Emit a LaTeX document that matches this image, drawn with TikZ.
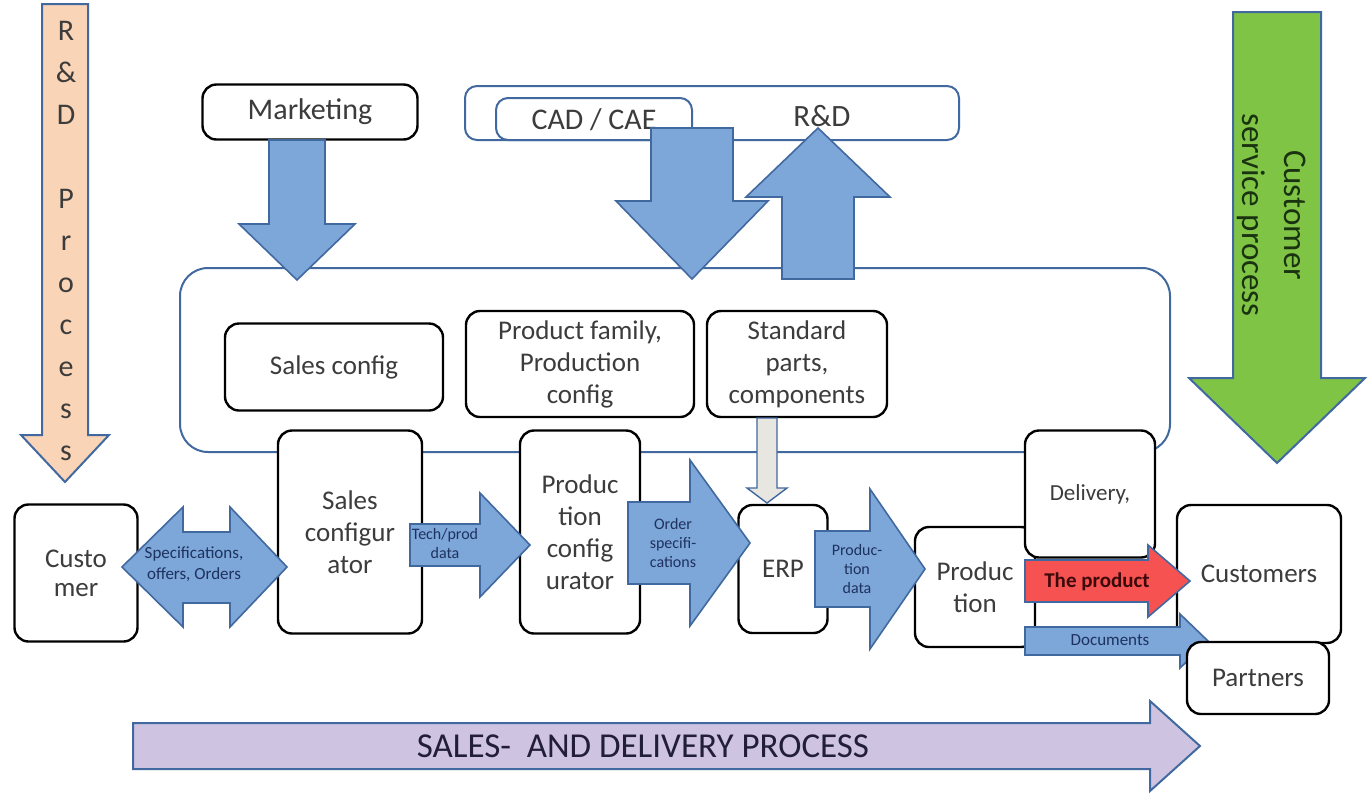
\documentclass[tikz,border=0pt]{standalone}
\usepackage{fontspec}
\setmainfont{Carlito}
\definecolor{arrowblue}{RGB}{125,166,217}
\definecolor{edgeblue}{RGB}{65,105,160}
\definecolor{peach}{RGB}{250,212,182}
\definecolor{leafgreen}{RGB}{128,196,70}
\definecolor{lavender}{RGB}{206,196,226}
\definecolor{productred}{RGB}{247,82,82}
\definecolor{paleshaft}{RGB}{232,230,224}
\definecolor{boxtext}{RGB}{60,60,60}
\definecolor{navytext}{RGB}{30,50,95}
\definecolor{darkleaf}{RGB}{25,50,15}

% block arrows: shaft start, head base, tip, centre line, shaft half width, head half width, style
\newcommand{\fatright}[7]{%
  \draw[#7] (#1,#4-#5) -- (#2,#4-#5) -- (#2,#4-#6) -- (#3,#4) -- (#2,#4+#6) -- (#2,#4+#5) -- (#1,#4+#5) -- cycle;}
\newcommand{\fatvert}[7]{%
  \draw[#7] (#1-#5,#2) -- (#1-#5,#3) -- (#1-#6,#3) -- (#1,#4) -- (#1+#6,#3) -- (#1+#5,#3) -- (#1+#5,#2) -- cycle;}

\begin{document}
\begin{tikzpicture}[x=1pt,y=-1pt,
    box/.style={draw=black,line width=2.4pt,rounded corners=14pt,fill=white,align=center,text=boxtext,inner sep=2pt,font=\fontsize{27}{32}\selectfont},
    bluebox/.style={draw=edgeblue,line width=2pt,rounded corners=12pt,fill=white,inner sep=0pt},
    flow/.style={draw=edgeblue,line width=1.6pt,fill=arrowblue},
    flowtext/.style={align=center,text=navytext,font=\fontsize{16}{19}\selectfont}]
  \useasboundingbox (0,0) rectangle (1368,796);

  \node[bluebox,rounded corners=28pt,minimum width=990pt,minimum height=184pt] (frame) at (675,360) {};
  \node[box,minimum width=215pt,minimum height=55pt,font=\fontsize{30}{34}\selectfont] (mkt) at (310,112) {Marketing};
  \node[bluebox,minimum width=494pt,minimum height=54pt] (rd) at (712,113) {};
  \node[bluebox,minimum width=196pt,minimum height=42pt] (cad) at (594,119) {};
  \node[text=boxtext,font=\fontsize{30}{34}\selectfont] (cadlabel) at (594,120) {CAD / CAE};
  \node[text=boxtext,font=\fontsize{31}{34}\selectfont] (rdlabel) at (822,116) {R\&D};

  \fatvert{297}{140}{224}{280}{28}{58}{flow}
  \fatvert{692}{128}{201}{279}{41}{76}{flow}
  \fatvert{818}{279}{197}{128}{36}{72}{flow}

  \node[box,minimum width=218pt,minimum height=87pt] (salescfg) at (334,367) {Sales config};
  \node[box,minimum width=228pt,minimum height=106pt] (family) at (580,364) {Product family,\\Production\\config};
  \node[box,minimum width=180pt,minimum height=106pt] (parts) at (797,364) {Standard\\parts,\\components};

  \fatvert{767}{418}{488}{503}{10}{20}{draw=edgeblue,line width=1.4pt,fill=paleshaft}

  \node[box,minimum width=123pt,minimum height=137pt,font=\fontsize{27}{29}\selectfont] (cust) at (76,573) {Custo\\mer};
  \node[box,minimum width=144pt,minimum height=203pt] (salescfgr) at (350,532) {Sales\\configur\\ator};
  \node[box,minimum width=120pt,minimum height=203pt] (prodcfgr) at (580,532) {Produc\\tion\\config\\urator};
  \node[box,minimum width=89pt,minimum height=128pt] (erp) at (783,569) {ERP};
  \node[box,minimum width=120pt,minimum height=120pt] (prod) at (975,587) {Produc\\tion};
  \node[box,minimum width=130pt,minimum height=127pt,font=\fontsize{23}{27}\selectfont] (deliv) at (1090,494) {Delivery,};
  \node[box,minimum width=164pt,minimum height=138pt] (custs) at (1259,574) {Customers};

  \draw[flow] (122,567) -- (183,507) -- (183,532) -- (230,532) -- (230,507) -- (287,567)
    -- (230,627) -- (230,603) -- (183,603) -- (183,627) -- cycle;
  \node[flowtext,font=\fontsize{17}{21}\selectfont] (specs) at (194,564) {Specifications,\\offers, Orders};
  \fatright{410}{480}{530}{545}{21}{52}{flow}
  \node[flowtext] (tech) at (445,543) {Tech/prod\\data};
  \fatright{628}{690}{750}{543}{41}{83}{flow}
  \node[flowtext] (order) at (673,543) {Order\\specifi-\\cations};
  \fatright{815}{870}{925}{569}{38}{80}{flow}
  \node[flowtext] (proddata) at (857,569) {Produc-\\tion\\data};

  \fatright{1025}{1148}{1190}{581}{21}{36}{draw=edgeblue,line width=1.6pt,fill=productred}
  \node[text={rgb,255:red,60;green,10;blue,10},font=\fontsize{21}{24}\selectfont\bfseries] (thing) at (1097,582) {The product};
  \fatright{1025}{1180}{1208}{641}{14}{27}{flow}
  \node[flowtext,font=\fontsize{17}{20}\selectfont] (docs) at (1110,640) {Documents};
  \node[box,minimum width=142pt,minimum height=72pt] (partners) at (1258,678) {Partners};

  \fatvert{65}{4}{435}{482}{23}{44}{draw=edgeblue,line width=2pt,fill=peach}
  \node[align=center,text=boxtext,font=\fontsize{30}{42}\selectfont] (rdproc) at (66,241) {R\\\&\\D\\[42pt]P\\r\\o\\c\\e\\s\\s};
  \fatvert{1277}{12}{378}{463}{44}{88}{draw=edgeblue,line width=2pt,fill=leafgreen}
  \node[rotate=-90,align=center,text=darkleaf,font=\fontsize{33}{42}\selectfont] (service) at (1272,215) {Customer\\service process};

  \fatright{133}{1150}{1200}{746}{23}{45}{draw=edgeblue,line width=2pt,fill=lavender}
  \node[text={rgb,255:red,35;green,30;blue,55},font=\fontsize{35}{38}\selectfont] (sales) at (643,746) {SALES-\ \ AND DELIVERY PROCESS};
\end{tikzpicture}
\end{document}
